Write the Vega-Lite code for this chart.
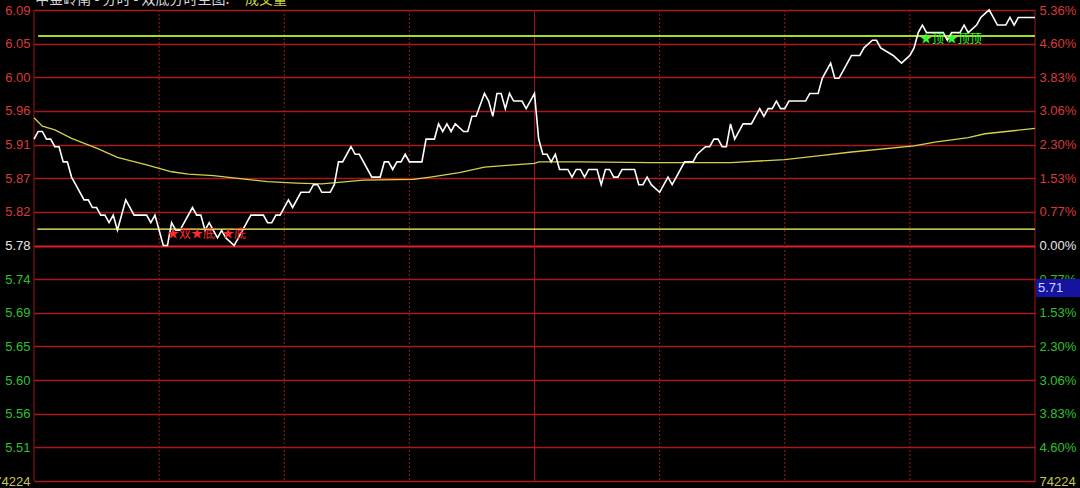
{
  "$schema": "https://vega.github.io/schema/vega-lite/v6.json",
  "width": 1001,
  "height": 471,
  "autosize": {"type": "none"},
  "padding": {"left": 34, "top": 10, "right": 45, "bottom": 7},
  "background": "#000000",
  "config": {"view": {"stroke": null}, "font": "Liberation Sans"},
  "datasets": {
    "price": [
      {"t":0,"p":5.92},{"t":1,"p":5.93},{"t":2,"p":5.93},{"t":3,"p":5.92},{"t":4,"p":5.92},{"t":5,"p":5.91},{"t":6,"p":5.91},{"t":7,"p":5.89},{"t":8,"p":5.89},{"t":9,"p":5.87},{"t":10,"p":5.86},{"t":12,"p":5.84},{"t":13,"p":5.84},{"t":14,"p":5.83},{"t":15,"p":5.83},{"t":16,"p":5.82},{"t":17,"p":5.82},{"t":18,"p":5.81},{"t":19,"p":5.82},{"t":20,"p":5.80},{"t":22,"p":5.84},{"t":24,"p":5.82},{"t":27,"p":5.82},{"t":28,"p":5.81},{"t":29,"p":5.82},{"t":30,"p":5.80},{"t":31,"p":5.78},{"t":32,"p":5.78},{"t":33,"p":5.81},{"t":34,"p":5.80},{"t":35,"p":5.80},{"t":36,"p":5.81},{"t":38,"p":5.83},{"t":39,"p":5.82},{"t":40,"p":5.82},{"t":41,"p":5.80},{"t":42,"p":5.81},{"t":43,"p":5.80},{"t":44,"p":5.79},{"t":45,"p":5.80},{"t":46,"p":5.79},{"t":48,"p":5.78},{"t":49,"p":5.79},{"t":51,"p":5.81},{"t":52,"p":5.82},{"t":55,"p":5.82},{"t":56,"p":5.81},{"t":57,"p":5.81},{"t":58,"p":5.82},{"t":59,"p":5.82},{"t":61,"p":5.84},{"t":62,"p":5.83},{"t":64,"p":5.85},{"t":66,"p":5.85},{"t":67,"p":5.86},{"t":68,"p":5.86},{"t":69,"p":5.85},{"t":71,"p":5.85},{"t":72,"p":5.86},{"t":73,"p":5.89},{"t":74,"p":5.89},{"t":76,"p":5.91},{"t":77,"p":5.90},{"t":78,"p":5.90},{"t":81,"p":5.87},{"t":83,"p":5.87},{"t":84,"p":5.89},{"t":85,"p":5.89},{"t":86,"p":5.88},{"t":87,"p":5.89},{"t":88,"p":5.89},{"t":89,"p":5.90},{"t":90,"p":5.89},{"t":93,"p":5.89},{"t":94,"p":5.92},{"t":96,"p":5.92},{"t":97,"p":5.94},{"t":98,"p":5.93},{"t":99,"p":5.94},{"t":100,"p":5.93},{"t":101,"p":5.94},{"t":103,"p":5.93},{"t":104,"p":5.93},{"t":105,"p":5.95},{"t":106,"p":5.95},{"t":108,"p":5.98},{"t":109,"p":5.97},{"t":110,"p":5.95},{"t":111,"p":5.98},{"t":112,"p":5.98},{"t":113,"p":5.96},{"t":114,"p":5.98},{"t":115,"p":5.97},{"t":117,"p":5.97},{"t":118,"p":5.96},{"t":120,"p":5.98},{"t":121,"p":5.92},{"t":122,"p":5.90},{"t":123,"p":5.90},{"t":124,"p":5.89},{"t":125,"p":5.90},{"t":126,"p":5.88},{"t":128,"p":5.88},{"t":129,"p":5.87},{"t":130,"p":5.88},{"t":131,"p":5.88},{"t":132,"p":5.87},{"t":133,"p":5.88},{"t":135,"p":5.88},{"t":136,"p":5.86},{"t":137,"p":5.88},{"t":138,"p":5.88},{"t":139,"p":5.87},{"t":140,"p":5.87},{"t":141,"p":5.88},{"t":144,"p":5.88},{"t":145,"p":5.86},{"t":146,"p":5.86},{"t":147,"p":5.87},{"t":148,"p":5.86},{"t":150,"p":5.85},{"t":152,"p":5.87},{"t":153,"p":5.86},{"t":156,"p":5.89},{"t":158,"p":5.89},{"t":159,"p":5.90},{"t":161,"p":5.91},{"t":162,"p":5.91},{"t":163,"p":5.92},{"t":164,"p":5.92},{"t":165,"p":5.91},{"t":166,"p":5.91},{"t":167,"p":5.94},{"t":168,"p":5.92},{"t":170,"p":5.94},{"t":172,"p":5.94},{"t":174,"p":5.96},{"t":175,"p":5.95},{"t":176,"p":5.96},{"t":177,"p":5.96},{"t":178,"p":5.97},{"t":179,"p":5.96},{"t":180,"p":5.96},{"t":181,"p":5.97},{"t":185,"p":5.97},{"t":186,"p":5.98},{"t":188,"p":5.98},{"t":189,"p":6.00},{"t":191,"p":6.02},{"t":192,"p":6.00},{"t":193,"p":6.00},{"t":195,"p":6.02},{"t":196,"p":6.03},{"t":198,"p":6.03},{"t":199,"p":6.04},{"t":201,"p":6.05},{"t":202,"p":6.05},{"t":203,"p":6.04},{"t":206,"p":6.03},{"t":208,"p":6.02},{"t":210,"p":6.03},{"t":211,"p":6.04},{"t":212,"p":6.06},{"t":213,"p":6.07},{"t":214,"p":6.06},{"t":218,"p":6.06},{"t":219,"p":6.05},{"t":220,"p":6.06},{"t":222,"p":6.06},{"t":223,"p":6.07},{"t":224,"p":6.06},{"t":226,"p":6.07},{"t":227,"p":6.08},{"t":229,"p":6.09},{"t":231,"p":6.07},{"t":233,"p":6.07},{"t":234,"p":6.08},{"t":235,"p":6.07},{"t":236,"p":6.08},{"t":240,"p":6.08}
    ],
    "avg": [
      {"t":0,"p":5.948},{"t":2,"p":5.937},{"t":5,"p":5.932},{"t":9,"p":5.921},{"t":15,"p":5.908},{"t":20,"p":5.896},{"t":27,"p":5.886},{"t":33,"p":5.877},{"t":37,"p":5.874},{"t":43,"p":5.872},{"t":51,"p":5.867},{"t":56,"p":5.864},{"t":63,"p":5.862},{"t":69,"p":5.861},{"t":75,"p":5.864},{"t":79,"p":5.866},{"t":91,"p":5.867},{"t":95,"p":5.870},{"t":102,"p":5.876},{"t":108,"p":5.883},{"t":115,"p":5.886},{"t":120,"p":5.888},{"t":121,"p":5.890},{"t":131,"p":5.890},{"t":148,"p":5.889},{"t":167,"p":5.889},{"t":180,"p":5.893},{"t":188,"p":5.898},{"t":196,"p":5.903},{"t":211,"p":5.911},{"t":216,"p":5.916},{"t":224,"p":5.922},{"t":228,"p":5.927},{"t":240,"p":5.934}
    ],
    "vlines": [{"t":0},{"t":30},{"t":60},{"t":90},{"t":120},{"t":150},{"t":180},{"t":210},{"t":240}],
    "levels": [
      {"lvl":"resistance","p":6.0556,"t0":1,"t1":240},
      {"lvl":"support","p":5.8015,"t0":0.8,"t1":240}
    ],
    "signals": [
      {"txt":"★双★底","t":31.9,"p":5.795,"sig":"buy"},
      {"txt":"★底","t":45.1,"p":5.795,"sig":"buy"},
      {"txt":"★顶","t":212.4,"p":6.0517,"sig":"sell"},
      {"txt":"★顶顶","t":218.6,"p":6.0517,"sig":"sell"}
    ],
    "header": [
      {"txt":"中金岭南 - 分时 - 双底分时主图:","t":0.3,"p":6.1031,"part":"name"},
      {"txt":"成交量","t":50.6,"p":6.1031,"part":"indicator"}
    ],
    "cursor": [{"txt":"5.71","t0":240.25,"t1":253,"p0":5.7123,"p1":5.7359,"tt":240.7,"pm":5.7241}]
  },
  "resolve": {"scale": {"y": "independent", "color": "independent"}},
  "layer": [
    {
      "data": {"name": "vlines"},
      "mark": {"type": "rule", "strokeWidth": 1, "color": "#a01818"},
      "encoding": {
        "x": {"field": "t", "type": "quantitative", "scale": {"domain": [0, 240], "nice": false, "zero": false}, "axis": null},
        "strokeDash": {"condition": {"test": "datum.t % 120 == 0", "value": [1, 0]}, "value": [2, 2]}
      }
    },
    {
      "data": {"name": "avg"},
      "mark": {"type": "line", "color": "#d2d24a", "strokeWidth": 1.3},
      "encoding": {
        "x": {"field": "t", "type": "quantitative", "scale": {"domain": [0, 240], "nice": false, "zero": false}, "axis": null},
        "y": {"field": "p", "type": "quantitative", "scale": {"domain": [5.4702, 6.0898], "nice": false, "zero": false},
          "axis": {
            "orient": "left",
            "values": [6.0898, 6.04554, 6.00129, 5.95703, 5.91277, 5.86851, 5.82426, 5.78, 5.73574, 5.69149, 5.64723, 5.60297, 5.55871, 5.51446, 5.4702],
            "labelExpr": "datum.value < 5.48 ? '74224' : format(datum.value, '.2f')",
            "labelColor": {"condition": [{"test": "datum.value < 5.48", "value": "#c8c84a"}, {"test": "datum.value > 5.79", "value": "#d83a3a"}, {"test": "datum.value > 5.77", "value": "#e8e8e8"}], "value": "#2ec02e"},
            "grid": true,
            "gridColor": {"condition": {"test": "abs(datum.value - 5.78) < 0.001", "value": "#e02020"}, "value": "#a81a1a"},
            "gridWidth": {"condition": {"test": "abs(datum.value - 5.78) < 0.001", "value": 2}, "value": 1.5},
            "ticks": false, "domain": false, "labelPadding": 4, "labelFontSize": 13, "labelFont": "Liberation Sans",
            "title": null, "labelOverlap": false, "labelBound": false, "labelFlush": false
          }
        }
      }
    },
    {
      "data": {"name": "levels"},
      "mark": {"type": "rule"},
      "encoding": {
        "x": {"field": "t0", "type": "quantitative", "scale": {"domain": [0, 240], "nice": false, "zero": false}, "axis": null},
        "x2": {"field": "t1"},
        "y": {"field": "p", "type": "quantitative", "scale": {"domain": [5.4702, 6.0898], "nice": false, "zero": false}, "axis": null},
        "color": {"field": "lvl", "type": "nominal", "scale": {"domain": ["resistance", "support"], "range": ["#a0e020", "#ffff66"]}, "legend": null},
        "strokeWidth": {"condition": {"test": "datum.lvl == 'resistance'", "value": 2.2}, "value": 1.1}
      }
    },
    {
      "data": {"name": "price"},
      "mark": {"type": "line", "color": "#ffffff", "strokeWidth": 1.6},
      "encoding": {
        "x": {"field": "t", "type": "quantitative", "scale": {"domain": [0, 240], "nice": false, "zero": false}, "axis": null},
        "y": {"field": "p", "type": "quantitative", "scale": {"domain": [5.4702, 6.0898], "nice": false, "zero": false},
          "axis": {
            "orient": "right",
            "values": [6.0898, 6.04554, 6.00129, 5.95703, 5.91277, 5.86851, 5.82426, 5.78, 5.73574, 5.69149, 5.64723, 5.60297, 5.55871, 5.51446, 5.4702],
            "labelExpr": "datum.value < 5.48 ? '74224' : format(abs(round((datum.value - 5.78) / 0.044257)) * 0.766, '.2f') + '%'",
            "labelColor": {"condition": [{"test": "datum.value < 5.48", "value": "#c8c84a"}, {"test": "datum.value > 5.79", "value": "#d83a3a"}, {"test": "datum.value > 5.77", "value": "#e8e8e8"}], "value": "#2ec02e"},
            "grid": false, "ticks": false, "domain": false, "labelPadding": 4, "labelFontSize": 13, "labelFont": "Liberation Sans",
            "title": null, "labelOverlap": false, "labelBound": false, "labelFlush": false
          }
        }
      }
    },
    {
      "data": {"name": "signals"},
      "mark": {"type": "text", "align": "left", "baseline": "middle", "fontSize": 12, "font": "Noto Sans CJK SC"},
      "encoding": {
        "x": {"field": "t", "type": "quantitative", "scale": {"domain": [0, 240], "nice": false, "zero": false}, "axis": null},
        "y": {"field": "p", "type": "quantitative", "scale": {"domain": [5.4702, 6.0898], "nice": false, "zero": false}, "axis": null},
        "text": {"field": "txt"},
        "color": {"field": "sig", "type": "nominal", "scale": {"domain": ["buy", "sell"], "range": ["#ff2a2a", "#30ff30"]}, "legend": null}
      }
    },
    {
      "data": {"name": "header"},
      "mark": {"type": "text", "align": "left", "baseline": "middle", "fontSize": 14, "font": "Noto Sans CJK SC"},
      "encoding": {
        "x": {"field": "t", "type": "quantitative", "scale": {"domain": [0, 240], "nice": false, "zero": false}, "axis": null},
        "y": {"field": "p", "type": "quantitative", "scale": {"domain": [5.4702, 6.0898], "nice": false, "zero": false}, "axis": null},
        "text": {"field": "txt"},
        "color": {"field": "part", "type": "nominal", "scale": {"domain": ["name", "indicator"], "range": ["#d8d8d8", "#c8d040"]}, "legend": null}
      }
    },
    {
      "data": {"name": "cursor"},
      "mark": {"type": "rect", "color": "#1414a0"},
      "encoding": {
        "x": {"field": "t0", "type": "quantitative", "scale": {"domain": [0, 240], "nice": false, "zero": false}, "axis": null},
        "x2": {"field": "t1"},
        "y": {"field": "p0", "type": "quantitative", "scale": {"domain": [5.4702, 6.0898], "nice": false, "zero": false}, "axis": null},
        "y2": {"field": "p1"}
      }
    },
    {
      "data": {"name": "cursor"},
      "mark": {"type": "text", "align": "left", "baseline": "middle", "fontSize": 13, "font": "Liberation Sans", "color": "#d0d0ff"},
      "encoding": {
        "x": {"field": "tt", "type": "quantitative", "scale": {"domain": [0, 240], "nice": false, "zero": false}, "axis": null},
        "y": {"field": "pm", "type": "quantitative", "scale": {"domain": [5.4702, 6.0898], "nice": false, "zero": false}, "axis": null},
        "text": {"field": "txt"}
      }
    }
  ]
}
